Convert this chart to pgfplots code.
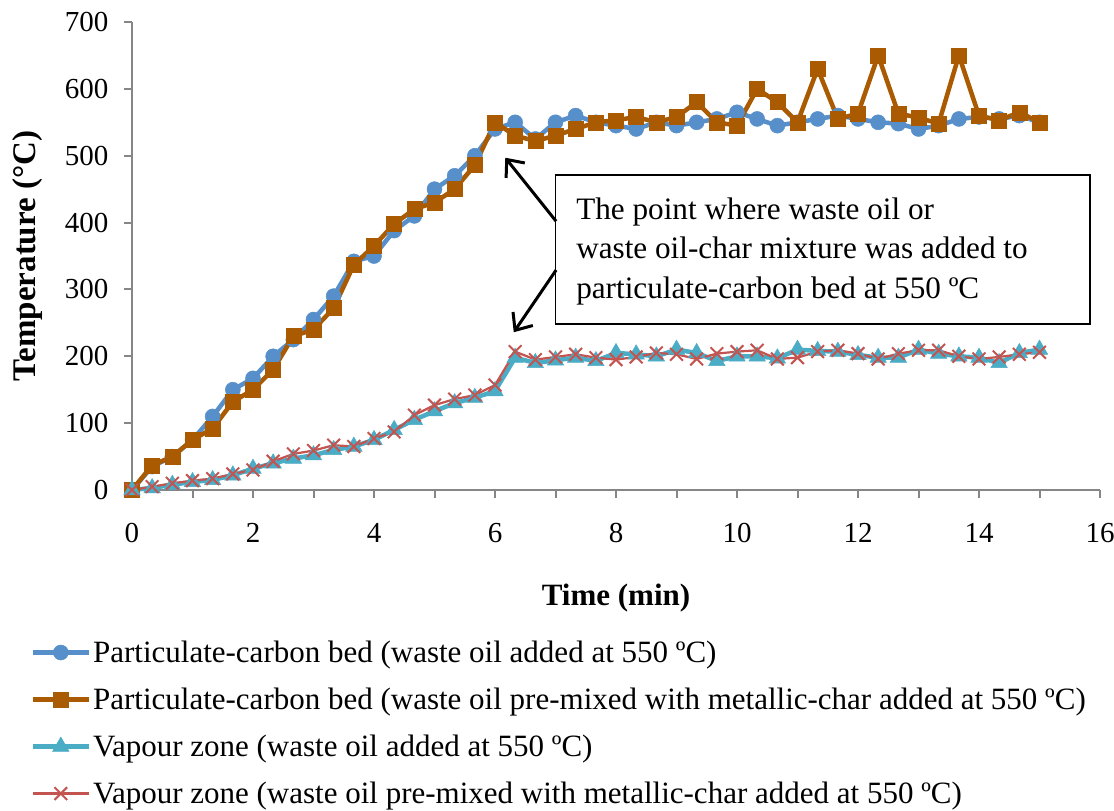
\documentclass[border=0pt]{standalone}
\usepackage{fontspec}
\setmainfont{Liberation Serif}
\usepackage{pgfplots}
\usepackage{pgfplotstable}
\pgfplotsset{compat=1.18}
\usetikzlibrary{arrows.meta}
\definecolor{cblue}{RGB}{86,143,201}
\definecolor{corange}{RGB}{170,90,0}
\definecolor{ccyan}{RGB}{75,172,198}
\definecolor{cred}{RGB}{196,84,80}
\definecolor{axisgray}{RGB}{134,134,134}
\pgfplotstableread{
t bedA bedB vapA vapB
0 0 0 0 0
0.333 35 37 3 5
0.667 50 50 8 10
1 75 75 12 14
1.333 110 92 15 17
1.667 150 132 22 24
2 167 150 32 30
2.333 200 180 40 43
2.667 225 230 47 54
3 255 240 52 59
3.333 290 272 60 67
3.667 342 337 65 65
4 350 365 75 77
4.333 388 398 90 87
4.667 410 420 105 112
5 450 430 118 127
5.333 470 450 130 136
5.667 500 486 138 142
6 540 550 148 157
6.333 550 530 198 207
6.667 525 522 190 195
7 550 530 194 199
7.333 560 540 198 203
7.667 550 550 193 198
8 545 553 205 195
8.333 540 558 203 199
8.667 550 550 200 205
9 545 558 210 203
9.333 550 580 205 196
9.667 555 550 193 204
10 565 545 200 207
10.333 555 600 200 209
10.667 545 580 197 196
11 550 550 210 198
11.333 555 630 208 207
11.667 560 555 207 209
12 555 563 202 204
12.333 550 650 198 196
12.667 548 563 198 204
13 540 557 210 209
13.333 545 548 204 209
13.667 555 650 200 200
14 558 560 198 196
14.333 555 553 190 199
14.667 560 565 205 203
15 550 550 210 206
}\datatable
\begin{document}
\begin{tikzpicture}
\path[use as bounding box] (0,0) rectangle (1114pt,-811pt);
\begin{axis}[
  at={(132pt,-490pt)}, anchor=south west,
  width=968pt, height=468pt, scale only axis,
  xmin=0, xmax=16, ymin=0, ymax=700,
  axis x line*=bottom, axis y line*=left,
  axis line style={draw=axisgray, line width=2pt, -},
  every outer x axis line/.append style={-},
  every outer y axis line/.append style={-},
  xtick={0,2,...,16}, minor xtick={1,3,...,15},
  ytick={0,100,...,700},
  tick align=outside,
  major tick length=8pt, minor tick length=8pt,
  every tick/.style={draw=axisgray, line width=2pt},
  minor tick style={draw=axisgray, line width=2pt},
  font=\fontsize{29}{34}\selectfont,
  ticklabel style={font=\fontsize{29}{34}\selectfont},
  /pgf/number format/assume math mode=true,
  xticklabel style={yshift=-22pt},
  yticklabel style={xshift=-12pt},
  xlabel={\textbf{Time (min)}},
  ylabel={\textbf{Temperature (°C)}},
  xlabel style={at={(axis description cs:0.5,-0.231)}, anchor=center, font=\fontsize{31}{36}\selectfont},
  ylabel style={at={(axis description cs:-0.108,0.5)}, anchor=center, font=\fontsize{33}{38}\selectfont},
  clip=false,
  legend cell align=left,
  legend style={at={(axis description cs:-0.105,-0.318)}, anchor=north west,
    draw=none, fill=none, font=\fontsize{31}{36}\selectfont,
    row sep=20pt, inner sep=0pt},
  legend image code/.code={\draw[mark repeat=2,mark phase=2,#1] plot coordinates {(0pt,0pt) (28pt,0pt) (56pt,0pt)};},
]
\addplot[color=cblue, line width=4.5pt, mark=*, mark size=7.5pt, mark options={fill=cblue, draw=cblue, line width=0.5pt}] table[x=t, y=bedA] {\datatable};
\addlegendentry{Particulate-carbon bed (waste oil added at 550 ºC)}
\addplot[color=corange, line width=4.5pt, mark=square*, mark size=7.5pt, mark options={fill=corange, draw=corange, line width=0.5pt}] table[x=t, y=bedB] {\datatable};
\addlegendentry{Particulate-carbon bed (waste oil pre-mixed with metallic-char added at 550 ºC)}
\addplot[color=ccyan, line width=4.5pt, mark=triangle*, mark size=9.5pt, mark options={fill=ccyan, draw=ccyan, line width=0.5pt}] table[x=t, y=vapA] {\datatable};
\addlegendentry{Vapour zone (waste oil added at 550 ºC)}
\addplot[color=cred, line width=2.2pt, mark=x, mark size=9pt, mark options={draw=cred, line width=2pt}] table[x=t, y=vapB] {\datatable};
\addlegendentry{Vapour zone (waste oil pre-mixed with metallic-char added at 550 ºC)}
\draw[line width=1.8pt, fill=white] (axis cs:7.0,471) rectangle (axis cs:15.83,248);
\node[anchor=base west, inner sep=0pt, font=\fontsize{31.2}{36}\selectfont] at (axis cs:7.34,405) {The point where waste oil or};
\node[anchor=base west, inner sep=0pt, font=\fontsize{31.2}{36}\selectfont] at (axis cs:7.34,346) {waste oil-char mixture was added to};
\node[anchor=base west, inner sep=0pt, font=\fontsize{31.2}{36}\selectfont] at (axis cs:7.34,287) {particulate-carbon bed at 550 ºC};
\draw[line width=3pt, -{Straight Barb[length=14pt, width=24pt, line width=3pt]}] (axis cs:7.01,402) -- (axis cs:6.17,497);
\draw[line width=3pt, -{Straight Barb[length=14pt, width=24pt, line width=3pt]}] (axis cs:7.01,329) -- (axis cs:6.31,236);
\end{axis}
\end{tikzpicture}
\end{document}
